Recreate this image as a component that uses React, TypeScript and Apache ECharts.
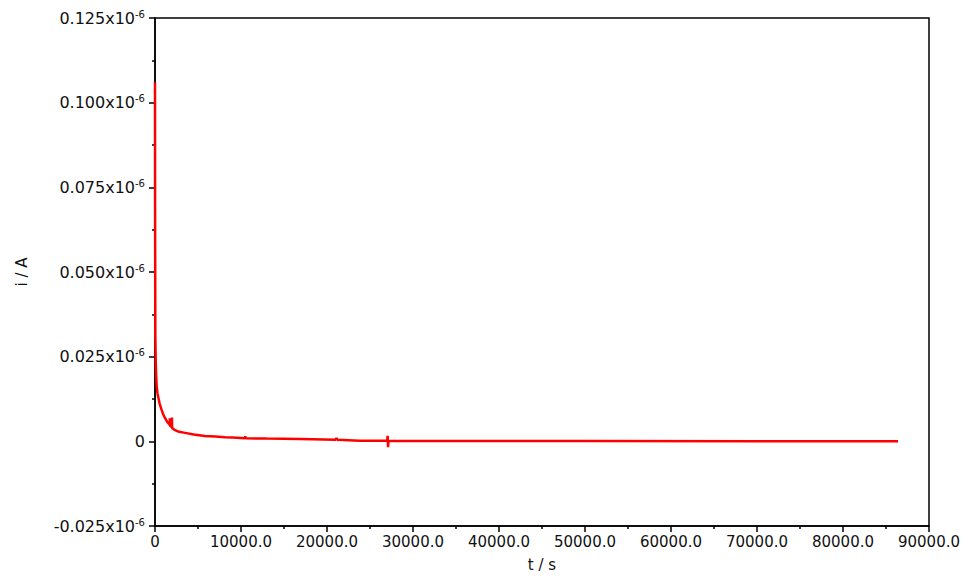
import React, { useEffect, useRef } from "react";
import * as echarts from "echarts";

// time in seconds
const timeS: number[] = [
  0, 15, 40, 80, 150, 200, 300, 400, 550, 780, 950, 1160, 1400, 1600, 1700, 1720, 1740,
  1950, 1970, 1990, 2100, 2330, 2800, 3490, 4500, 5800, 7000, 8140, 9000, 10460, 10500,
  10550, 13000, 16900, 21000, 21100, 21200, 23800, 27000, 27050, 27100, 27150, 35000,
  50000, 70000, 86400,
];
// current in units of 1e-6 A
const currentMicroA: number[] = [
  0.106, 0.06, 0.031, 0.024, 0.0185, 0.0161, 0.014, 0.0128, 0.011, 0.0092, 0.008, 0.0069,
  0.0058, 0.0052, 0.0049, 0.0068, 0.0046, 0.0042, 0.007, 0.004, 0.0037, 0.0033, 0.0028,
  0.0025, 0.002, 0.0016, 0.0014, 0.0012, 0.0011, 0.0009, 0.0015, 0.0009, 0.0008, 0.0007,
  0.0005, 0.001, 0.0005, 0.0002, 0.0002, 0.0016, -0.0017, 0.0002, 0.0001, 0.0001, 0.0,
  0.0,
];

const xTitle = "t / s";
const yTitle = "i / A";

const FONT = "DejaVu Sans";

export default function App() {
  const ref = useRef<HTMLDivElement>(null);
  useEffect(() => {
    if (!ref.current) return;
    const chart = echarts.init(ref.current, undefined, { renderer: "svg" });
    const data = timeS.map((t, i) => [t, currentMicroA[i]]);
    chart.setOption({
      animation: false,
      backgroundColor: "#ffffff",
      grid: {
        left: 155,
        top: 18,
        right: 41,
        bottom: 55,
        show: true,
        borderColor: "#000",
        borderWidth: 1.5,
        backgroundColor: "transparent",
      },
      xAxis: {
        type: "value",
        min: 0,
        max: 90000,
        interval: 10000,
        name: xTitle,
        nameLocation: "middle",
        nameGap: 31,
        nameTextStyle: { fontFamily: FONT, fontSize: 15, color: "#111" },
        axisLine: { onZero: false, lineStyle: { color: "#000", width: 1.5 } },
        axisTick: { show: true, length: 6, lineStyle: { color: "#000", width: 1.5 } },
        minorTick: { show: true, splitNumber: 2, length: 3, lineStyle: { color: "#000", width: 1.5 } },
        splitLine: { show: false },
        axisLabel: {
          fontFamily: FONT,
          fontSize: 15,
          color: "#111",
          margin: 8,
          formatter: (v: number) => (Math.abs(v) < 1e-9 ? "0" : v.toFixed(1)),
        },
      },
      yAxis: {
        type: "value",
        min: -0.025,
        max: 0.125,
        interval: 0.025,
        name: yTitle,
        nameLocation: "middle",
        nameRotate: 90,
        nameGap: 126,
        nameTextStyle: { fontFamily: FONT, fontSize: 15, color: "#111" },
        axisLine: { onZero: false, lineStyle: { color: "#000", width: 1.5 } },
        axisTick: { show: true, length: 6, lineStyle: { color: "#000", width: 1.5 } },
        minorTick: { show: true, splitNumber: 2, length: 3, lineStyle: { color: "#000", width: 1.5 } },
        splitLine: { show: false },
        axisLabel: {
          margin: 10,
          formatter: (v: number) =>
            Math.abs(v) < 1e-9 ? "{a|0}" : `{a|${v.toFixed(3)}x10}{b|-6}`,
          rich: {
            a: { fontFamily: FONT, fontSize: 16, color: "#111", lineHeight: 18 },
            b: { fontFamily: FONT, fontSize: 10, color: "#111", verticalAlign: "top", lineHeight: 10 },
          },
        },
      },
      series: [
        {
          type: "line",
          data,
          showSymbol: false,
          symbol: "none",
          lineStyle: { color: "#ff0000", width: 2.5 },
          itemStyle: { color: "#ff0000" },
        },
      ],
    });
    return () => chart.dispose();
  }, []);
  return (
    <div
      ref={ref}
      style={{ position: "fixed", left: 0, top: 0, width: 970, height: 581, background: "#fff" }}
    />
  );
}
